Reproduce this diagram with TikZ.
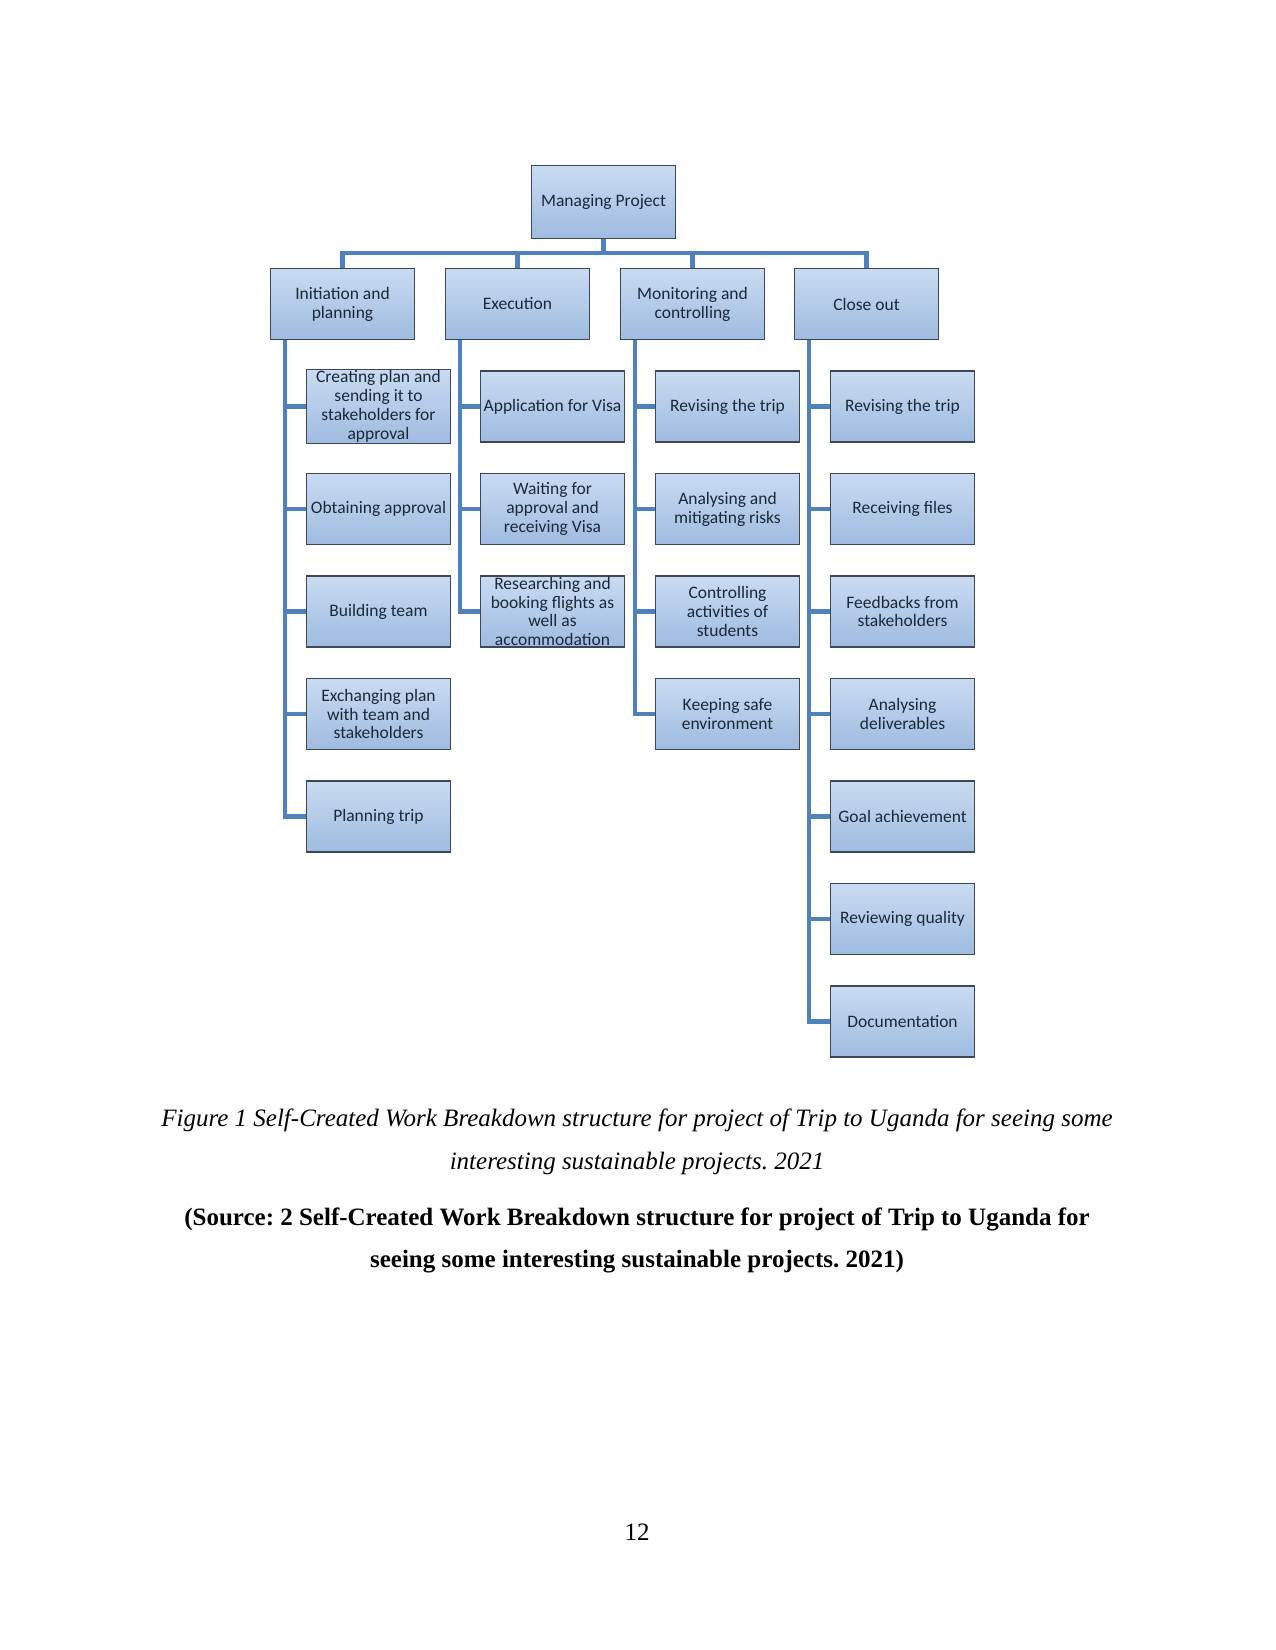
\documentclass[tikz,border=0pt]{standalone}
\usepackage{fontspec}
\setmainfont{Liberation Serif}
\newfontfamily\boxfont{Carlito}
\usepackage{tikz}
\usetikzlibrary{calc}
\definecolor{wbsTop}{HTML}{C9DBF2}
\definecolor{wbsBot}{HTML}{9FBBE0}
\definecolor{wbsEdge}{HTML}{3D4756}
\definecolor{wbsLine}{HTML}{4F81BD}
\definecolor{wbsText}{HTML}{1B2838}
\frenchspacing

\tikzset{
  wbs/.style={draw=wbsEdge, line width=0.6pt, top color=wbsTop, bottom color=wbsBot,
              minimum width=69pt, minimum height=34pt, inner sep=0.5pt, align=center,
              text=wbsText, font=\boxfont\fontsize{8.4}{9.1}\selectfont},
  link/.style={draw=wbsLine, line width=2pt, line join=miter},
}

\begin{document}
\begin{tikzpicture}[x=0.48pt, y=-0.48pt]
    \useasboundingbox (0,0) rectangle (1275,1650);
    % top of the breakdown
    \node[wbs, minimum height=35pt] (mp) at (603.5,202) {Managing Project};
    \foreach \name/\x/\lbl in {ip/342.5/{Initiation and\\planning}, ex/517.5/Execution,
                               mc/692.5/{Monitoring and\\controlling}, co/866.5/Close out} {
      \node[wbs] (\name) at (\x,304) {\lbl};
      \draw[link] (mp.south) -- ++(0,14) -| (\name.north);
    }
    % work packages under each phase
    \foreach \lbl [count=\i] in {{Creating plan and\\sending it to\\stakeholders for\\approval},
        Obtaining approval, Building team, {Exchanging plan\\with team and\\stakeholders}, Planning trip} {
      \node[wbs] (ip\i) at (378.5,{304+\i*102.5}) {\lbl};
      \draw[link] ($(ip.south west)+(15,0)$) |- (ip\i.west);
    }
    \foreach \lbl [count=\i] in {Application for Visa, {Waiting for\\approval and\\receiving Visa},
        {Researching and\\booking flights as\\well as\\accommodation}} {
      \node[wbs] (ex\i) at (552.5,{304+\i*102.5}) {\lbl};
      \draw[link] ($(ex.south west)+(15,0)$) |- (ex\i.west);
    }
    \foreach \lbl [count=\i] in {Revising the trip, {Analysing and\\mitigating risks},
        {Controlling\\activities of\\students}, {Keeping safe\\environment}} {
      \node[wbs] (mc\i) at (727.5,{304+\i*102.5}) {\lbl};
      \draw[link] ($(mc.south west)+(15,0)$) |- (mc\i.west);
    }
    \foreach \lbl [count=\i] in {Revising the trip, Receiving files, {Feedbacks from\\stakeholders},
        {Analysing\\deliverables}, Goal achievement, Reviewing quality, Documentation} {
      \node[wbs] (co\i) at (902.5,{304+\i*102.5}) {\lbl};
      \draw[link] ($(co.south west)+(15,0)$) |- (co\i.west);
    }
    % caption and page number
    \node[font=\itshape\fontsize{12}{14}\selectfont] (cap1) at (637,1120)
      {Figure 1 Self-Created Work Breakdown structure for project of Trip to Uganda for seeing some};
    \node[font=\itshape\fontsize{12}{14}\selectfont] (cap2) at (637,1163)
      {interesting sustainable projects. 2021};
    \node[font=\bfseries\fontsize{12}{14}\selectfont] (src1) at (637,1219)
      {(Source: 2 Self-Created Work Breakdown structure for project of Trip to Uganda for};
    \node[font=\bfseries\fontsize{12}{14}\selectfont] (src2) at (637,1262)
      {seeing some interesting sustainable projects. 2021)};
    \node[font=\fontsize{12}{14}\selectfont] (pg) at (637,1532) {12};
\end{tikzpicture}
\end{document}
